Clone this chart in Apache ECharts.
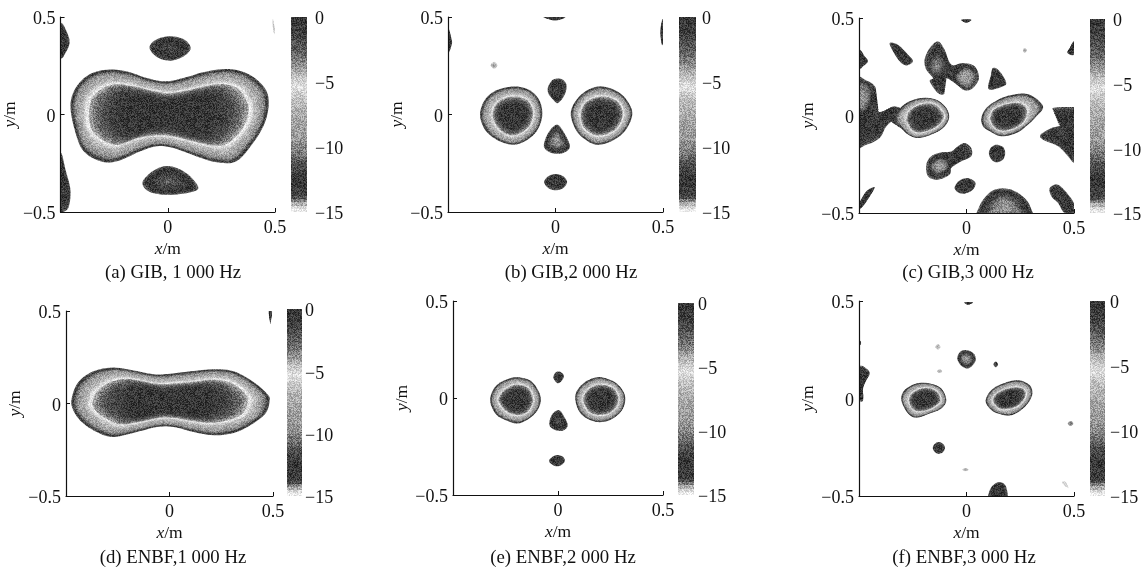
<!DOCTYPE html>
<html><head><meta charset="utf-8">
<style>html,body{margin:0;padding:0;background:#fff}#c{width:1145px;height:567px}</style>
<script src="https://cdn.jsdelivr.net/npm/echarts@6/dist/echarts.min.js"></script>
</head><body><div id="c"></div>
<script>
// colour bar: level (dB) -> grey
const colorLevels=[0,-1.5,-2.8,-3.6,-4.5,-5.3,-6.5,-8,-9.5,-10.5,-11.3,-12.5,-13.8,-14.2,-14.6,-15];
const colorGreys=[52,66,100,136,190,226,186,164,150,118,78,54,62,138,216,246];
const yTicks=[-0.5,0,0.5];
const barTicks=[0,-5,-10,-15];
const captions=['(a) GIB, 1 000 Hz','(b) GIB,2 000 Hz','(c) GIB,3 000 Hz','(d) ENBF,1 000 Hz','(e) ENBF,2 000 Hz','(f) ENBF,3 000 Hz'];

// contours. x,y: outer contour; rx,ry: -5 dB ring; base,peak: levels
const panelA=[
 {x:[-.454,-.430,-.368,-.283,-.190,-.098,-.005,.088,.181,.289,.382,.452,.471,.452,.398,.320,.228,.135,.026,-.051,-.128,-.237,-.314,-.392,-.430],
  y:[.042,.136,.204,.230,.221,.187,.170,.192,.221,.233,.204,.136,.059,-.044,-.146,-.240,-.245,-.215,-.172,-.163,-.189,-.240,-.240,-.189,-.095],
  rx:[-.381,-.364,-.314,-.252,-.175,-.090,-.005,.088,.189,.274,.344,.385,.393,.375,.336,.274,.197,.104,.011,-.067,-.152,-.245,-.314,-.361,-.379],
  ry:[.025,.093,.141,.162,.153,.131,.114,.127,.153,.162,.136,.068,.016,-.052,-.112,-.163,-.163,-.138,-.115,-.112,-.129,-.163,-.138,-.095,-.044]},
 {x:[-.085,-.059,.003,.073,.107,.073,.011,-.051],y:[.341,.381,.401,.387,.341,.298,.276,.295],peak:-11.5},
 {x:[-.118,-.082,-.020,.042,.104,.142,.073,-.020,-.090],y:[-.351,-.300,-.266,-.274,-.317,-.380,-.406,-.411,-.394],peak:-10.8},
 {x:[-.5,-.469,-.458,-.477,-.5,-.53],y:[.47,.419,.367,.316,.29,.38],peak:-12},
 {x:[-.5,-.477,-.454,-.461,-.485,-.53,-.53],y:[-.197,-.283,-.385,-.471,-.5,-.52,-.33],peak:-12},
 {x:[.49,.497,.497,.49],y:[.49,.45,.41,.45],peak:-14.45,base:-14.6}
];
const panelB=[
 {x:[-.351,-.328,-.274,-.189,-.119,-.073,-.062,-.088,-.142,-.204,-.274,-.328],y:[-.001,.076,.124,.144,.124,.068,-.009,-.086,-.137,-.155,-.129,-.078],
  rx:[-.297,-.282,-.243,-.189,-.135,-.107,-.101,-.119,-.158,-.204,-.251,-.282],ry:[-.001,.051,.085,.097,.081,.042,-.009,-.061,-.098,-.112,-.091,-.052]},
 {x:[.071,.098,.152,.221,.299,.345,.356,.322,.260,.190,.128,.090],y:[.008,.076,.127,.144,.110,.050,-.009,-.086,-.137,-.155,-.120,-.069],
  rx:[.113,.128,.167,.221,.276,.310,.317,.291,.245,.190,.144,.121],ry:[-.001,.051,.085,.097,.081,.042,-.009,-.069,-.103,-.112,-.086,-.052]},
 {x:[-.034,-.011,.028,.051,.043,.012,-.011,-.034],y:[.144,.179,.182,.153,.102,.059,.076,.110],peak:-11.5},
 {x:[.005,.036,.067,.036,-.019,-.054,-.034],y:[-.052,-.086,-.163,-.197,-.197,-.163,-.095],peak:-9},
 {x:[-.053,-.034,0,.036,.054,.036,0,-.034],y:[-.346,-.317,-.305,-.317,-.346,-.377,-.389,-.377],peak:-11.8},
 {x:[-.053,.043,.020,-.011,-.034],y:[.5,.5,.486,.483,.490],peak:-12.5},
 {x:[-.5,-.483,-.483,-.5,-.52],y:[.444,.384,.358,.315,.38],peak:-12},
 {x:[.5,.488,.492,.5,.52],y:[.49,.435,.37,.36,.43],peak:-12.5},
 {x:[-.302,-.286,-.270,-.286],y:[.252,.270,.252,.234],peak:-14.3,base:-14.6}
];
const panelC=[
 {x:[-.536,-.466,-.422,-.438,-.435,-.388,-.334,-.280,-.280,-.334,-.373,-.404,-.466,-.536],y:[.184,.180,.141,.081,.021,.021,.047,.013,-.081,-.030,-.056,-.115,-.150,-.150],peak:-12},
 {x:[-.5,-.45,-.446,-.466,-.5,-.535],y:[.175,.146,.081,.030,.021,.098],base:-11.5,peak:-9.2},
 {x:[-.326,-.280,-.210,-.140,-.094,-.081,-.109,-.164,-.226,-.272,-.311,-.334],y:[.013,.064,.090,.081,.038,-.013,-.064,-.098,-.115,-.098,-.056,-.030],
  rx:[-.280,-.264,-.210,-.148,-.109,-.102,-.133,-.179,-.226,-.257,-.272,-.283],ry:[-.004,.030,.061,.061,.021,-.013,-.056,-.081,-.090,-.076,-.047,-.025]},
 {x:[.069,.092,.147,.216,.294,.356,.325,.286,.232,.162,.108,.077],y:[-.013,.038,.081,.107,.107,.047,-.004,-.047,-.090,-.107,-.081,-.056],
  rx:[.108,.123,.170,.232,.271,.286,.271,.232,.178,.139,.116,.108],ry:[-.004,.030,.056,.069,.056,.021,-.030,-.064,-.081,-.073,-.047,-.025]},
 {x:[.402,.5,.534,.534,.5,.472,.426,.356,.345,.395,.441,.426],y:[.038,.044,.044,-.244,-.244,-.209,-.158,-.124,-.098,-.064,-.047,.004],peak:-12},
 {x:[-.195,-.171,-.133,-.102,-.071,-.016,.038,.058,.030,-.009,-.055,-.094,-.125,-.102,-.133,-.171,-.156,-.187],y:[.286,.346,.380,.338,.261,.269,.252,.192,.141,.129,.167,.192,.184,.115,.115,.175,.192,.235],peak:-12},
 {x:[-.045,-.005,.035,.045,.015,-.03,-.05],y:[.215,.248,.23,.19,.14,.155,.19],base:-11.5,peak:-8.2},
 {x:[-.17,-.14,-.1,-.105,-.14,-.175],y:[.27,.32,.28,.23,.2,.23],base:-11.8,peak:-10},
 {x:[-.357,-.319,-.272,-.249,-.280,-.311,-.342],y:[.372,.363,.312,.278,.257,.278,.329],peak:-12},
 {x:[-.5,-.473,-.458,-.481,-.5,-.535],y:[.338,.303,.278,.252,.240,.285],peak:-12},
 {x:[-.024,.022,.007,-.009],y:[.491,.491,.478,.478],peak:-12.5},
 {x:[.5,.480,.469,.5],y:[.380,.346,.321,.312],peak:-12.5},
 {x:[.262,.27,.282,.27],y:[.334,.346,.334,.322],peak:-14.3,base:-14.6},
 {x:[.123,.154,.185,.162,.115,.100,.112],y:[.244,.227,.167,.146,.132,.146,.201],peak:-11.5},
 {x:[.104,.116,.140,.170,.180,.170,.140,.116],y:[-.192,-.162,-.150,-.162,-.192,-.226,-.240,-.226],peak:-12},
 {x:[-.187,-.164,-.117,-.071,-.040,-.009,.022,.022,-.024,-.071,-.078,-.133,-.179],y:[-.252,-.209,-.189,-.184,-.158,-.141,-.167,-.209,-.235,-.269,-.303,-.329,-.312],peak:-12},
 {x:[-.165,-.125,-.09,-.085,-.125,-.16],y:[-.25,-.22,-.235,-.27,-.3,-.29],base:-11.5,peak:-8.8},
 {x:[-.055,-.032,.007,.041,.030,-.009,-.040],y:[-.368,-.333,-.321,-.343,-.380,-.401,-.394],peak:-12},
 {x:[.046,.077,.131,.208,.278,.309,.333,.022],y:[-.5,-.432,-.380,-.380,-.432,-.5,-.551,-.551],peak:-9},
 {x:[.387,.426,.480,.506,.506,.456,.426,.395],y:[-.372,-.355,-.415,-.466,-.5,-.5,-.449,-.415],peak:-12},
 {x:[-.5,-.466,-.427,-.450,-.489,-.535],y:[-.449,-.389,-.367,-.415,-.474,-.5],peak:-12}
];
const panelD=[
 {x:[-.473,-.440,-.368,-.271,-.174,-.077,.003,.100,.213,.310,.406,.471,.484,.463,.390,.310,.213,.116,.019,-.061,-.158,-.271,-.352,-.424,-.465],
  y:[.026,.116,.174,.194,.179,.158,.161,.174,.185,.174,.116,.053,.017,-.055,-.118,-.159,-.172,-.154,-.127,-.127,-.154,-.181,-.154,-.100,-.037],
  rx:[-.387,-.368,-.311,-.231,-.150,-.069,.003,.100,.213,.294,.350,.387,.394,.371,.318,.253,.190,.108,.019,-.053,-.150,-.247,-.311,-.360,-.384],
  ry:[.008,.062,.113,.138,.129,.111,.111,.120,.134,.122,.089,.044,.008,-.055,-.086,-.104,-.109,-.097,-.082,-.082,-.104,-.118,-.091,-.055,-.019]},
 {x:[.479,.495,.492,.487],y:[.5,.5,.46,.43],peak:-13,base:-14.3}
];
const panelE=[
 {x:[-.323,-.299,-.244,-.188,-.125,-.085,-.089,-.125,-.188,-.252,-.299],y:[-.010,.058,.096,.107,.084,.015,-.045,-.096,-.131,-.113,-.079],
  rx:[-.288,-.267,-.228,-.188,-.141,-.117,-.120,-.149,-.188,-.236,-.267],ry:[-.010,.033,.064,.072,.055,.007,-.036,-.079,-.091,-.079,-.050]},
 {x:[.082,.104,.152,.207,.278,.318,.310,.263,.199,.136,.097],y:[.007,.058,.096,.107,.076,.015,-.053,-.105,-.125,-.105,-.062],
  rx:[.117,.136,.176,.215,.263,.291,.282,.247,.199,.152,.128],ry:[-.002,.041,.067,.072,.055,.007,-.045,-.079,-.091,-.079,-.045]},
 {x:[-.022,-.011,.009,.028,.017,-.002,-.017],y:[.110,.132,.136,.115,.088,.076,.093],peak:-12.3},
 {x:[.002,.025,.046,.025,-.014,-.041,-.030],y:[-.062,-.088,-.139,-.168,-.165,-.139,-.088],peak:-11.3},
 {x:[-.043,-.025,-.002,.022,.033,.017,-.006,-.030],y:[-.323,-.302,-.294,-.302,-.323,-.345,-.352,-.342],peak:-12}
];
const panelF=[
 {x:[-.303,-.288,-.233,-.171,-.117,-.094,-.117,-.171,-.233,-.272],y:[-.009,.043,.077,.077,.051,-.009,-.051,-.077,-.098,-.077],
  rx:[-.272,-.257,-.218,-.171,-.133,-.117,-.140,-.179,-.218,-.253],ry:[-.009,.026,.051,.055,.034,-.009,-.038,-.060,-.068,-.055]},
 {x:[.089,.116,.170,.240,.294,.305,.271,.209,.146,.108],y:[-.009,.043,.077,.094,.068,.017,-.043,-.086,-.077,-.051],
  rx:[.119,.139,.185,.232,.271,.278,.247,.201,.154,.131],ry:[-.009,.026,.051,.060,.048,.014,-.034,-.055,-.055,-.034]},
 {x:[-.043,-.029,.002,.033,.043,.022,0,-.027],y:[.205,.240,.248,.231,.197,.163,.154,.171],peak:-8.8},
 {x:[-.157,-.148,-.129,-.109,-.100,-.109,-.129,-.148],y:[-.253,-.233,-.223,-.233,-.253,-.274,-.284,-.274],peak:-12.2},
 {x:[.100,.116,.150,.181,.193,.193,.100],y:[-.5,-.454,-.428,-.445,-.5,-.53,-.53],peak:-12.2},
 {x:[-.5,-.466,-.450,-.466,-.481,-.481,-.5,-.535],y:[.163,.154,.128,.094,.051,-.009,-.009,.068],peak:-12},
 {x:[-.009,.030,.015,0],y:[.493,.493,.483,.483],peak:-12.5},
 {x:[-.145,-.133,-.121,-.133],y:[.265,.28,.265,.25],peak:-14.3,base:-14.6},
 {x:[-.137,-.125,-.113,-.125],y:[.14,.15,.14,.13],peak:-14.3,base:-14.6},
 {x:[.125,.136,.147,.136],y:[.175,.19,.175,.16],peak:-13,base:-14.3},
 {x:[-.02,-.005,.01,-.005],y:[-.365,-.357,-.365,-.373],peak:-14.3,base:-14.6},
 {x:[.47,.484,.498,.484],y:[-.128,-.115,-.128,-.142],peak:-14,base:-14.5},
 {x:[.445,.46,.475,.46],y:[-.43,-.425,-.46,-.45],peak:-14.5,base:-14.7},
 {x:[-.5,-.49,-.5],y:[.30,.285,.27],peak:-13}
];
const panels=[panelA,panelB,panelC,panelD,panelE,panelF];

// layout only (pixels)
const plotBox=[[60,275,17,212],[448,663,17,212],[859,1074,18,213],[66,273,311,496],[453,663,301,495],[859,1074,301,496]];
const barBox=[[291,307,17,212],[679,696,17,212],[1090,1105,19,213],[287,302,309,496],[678,694,303,495],[1090,1105,301,496]];
const capPos=[[168,272],[566,272],[963,272],[168,557],[558,557],[959,557]];
const yNameGap=[37,36,36,35,35,34];
const barMargin=[8,6,8,3,4,5];

function levelGrey(v){
  if(v>=colorLevels[0])return colorGreys[0];
  for(let i=1;i<colorLevels.length;i++){
    if(v>=colorLevels[i]){
      const t=(colorLevels[i-1]-v)/(colorLevels[i-1]-colorLevels[i]);
      return colorGreys[i-1]+t*(colorGreys[i]-colorGreys[i-1]);
    }
  }
  return colorGreys[colorGreys.length-1];
}
// halftone look of the printed figure: fixed tiles, one per grey step
const tileCache={};
function grainFill(v){
  const g=Math.round(levelGrey(v)/6)*6;
  if(tileCache[g])return tileCache[g];
  const c=document.createElement('canvas');c.width=c.height=67;
  const ctx=c.getContext('2d'),im=ctx.createImageData(67,67);
  let s=(g*2654435761+12345)>>>0;
  const amp=20+26*(1-Math.abs(g-128)/128);
  for(let i=0;i<im.data.length;i+=4){
    s=(Math.imul(s,1664525)+1013904223)>>>0;
    const r=(s>>>16&255)/255;
    const val=Math.max(0,Math.min(255,g+(r-0.5)*2*amp));
    im.data[i]=im.data[i+1]=im.data[i+2]=val;im.data[i+3]=255;
  }
  ctx.putImageData(im,0,0);
  tileCache[g]={image:c,repeat:'repeat'};
  return tileCache[g];
}
// closed Catmull-Rom path through the contour points
function closedCurve(pts){
  const out=[],n=pts.length,S=6;
  for(let i=0;i<n;i++){
    const a=pts[(i+n-1)%n],b=pts[i],c=pts[(i+1)%n],d=pts[(i+2)%n];
    for(let k=0;k<S;k++){
      const t=k/S,t2=t*t,t3=t2*t;
      out.push([0,1].map(j=>0.5*(2*b[j]+(c[j]-a[j])*t+(2*a[j]-5*b[j]+4*c[j]-d[j])*t2+(3*b[j]-a[j]-3*c[j]+d[j])*t3)));
    }
  }
  return out;
}
const RIM=-13.9,RINGV=-5.3;
function renderBlob(list){
  return function(params,api){
    const b=list[api.value(0)],kids=[];
    const outer=closedCurve(b.x.map((x,i)=>api.coord([x,b.y[i]])));
    const add=(pts,v)=>kids.push({type:'polygon',shape:{points:pts},style:{fill:grainFill(v)}});
    const centre=pts=>{let a=0,c=0;pts.forEach(p=>{a+=p[0];c+=p[1];});return [a/pts.length,c/pts.length];};
    const scale=(pts,s)=>{const m=centre(pts);return pts.map(p=>[m[0]+(p[0]-m[0])*s,m[1]+(p[1]-m[1])*s]);};
    const base=b.base===undefined?RIM:b.base;
    if(b.rx){
      const ring=closedCurve(b.rx.map((x,i)=>api.coord([x,b.ry[i]])));
      const N=14;
      for(let k=0;k<=N;k++){
        const t=k/N,pts=outer.map((p,i)=>[p[0]+(ring[i][0]-p[0])*t,p[1]+(ring[i][1]-p[1])*t]);
        add(pts,base+(RINGV-base)*Math.pow(t,0.6));
      }
      const M=12;
      for(let k=1;k<=M;k++){
        const t=k/M;
        add(scale(ring,1-0.5*t),RINGV*(1-Math.pow(t,0.55)));
      }
    }else{
      const N=10;
      for(let k=0;k<=N;k++){
        const t=k/N;
        add(scale(outer,1-0.9*t),base+(b.peak-base)*Math.pow(t,0.7));
      }
    }
    return {type:'group',children:kids};
  };
}
function renderBar(params,api){
  const kids=[],a=api.coord([0,0]),STEP=0.25;
  const c=api.coord([1,-15]);
  for(let v=0;v>-15;v-=STEP){
    const y0=Math.round(api.coord([0,v])[1]),y1=Math.round(api.coord([0,v-STEP])[1]);
    kids.push({type:'rect',shape:{x:a[0],y:y0,width:c[0]-a[0],height:y1-y0},style:{fill:grainFill(v-STEP/2)}});
  }
  return {type:'group',children:kids};
}
const FONT='"Liberation Serif","Times New Roman",serif';
const minus=v=>String(v).replace('-','\u2212');
const shifted=v=>'{a|'+minus(v)+'}';
const grid=[],xAxis=[],yAxis=[],series=[],title=[];
panels.forEach((list,p)=>{
  const [l,r,t,bt]=plotBox[p],[bl,br,bt0,bb]=barBox[p];
  const gi=grid.length;
  grid.push({left:l,top:t,width:r-l,height:bt-t});
  grid.push({left:bl,top:bt0,width:br-bl,height:bb-bt0});
  const line={show:true,onZero:false,lineStyle:{color:'#111',width:1.2}};
  const tick={show:true,inside:true,length:4,lineStyle:{color:'#111',width:1}};
  const lab={color:'#111',fontFamily:FONT,fontSize:18,formatter:minus};
  const down={a:{fontFamily:FONT,fontSize:18,color:'#111',padding:[5,0,0,0]}};
  const rich={i:{fontFamily:FONT,fontStyle:'italic',fontSize:17.5,color:'#111'},n:{fontFamily:FONT,fontSize:17.5,color:'#111'}};
  xAxis.push({gridIndex:gi,type:'value',min:yTicks[0],max:yTicks[2],interval:0.5,axisLine:line,axisTick:tick,splitLine:{show:false},z:5,
    axisLabel:Object.assign({},lab,{margin:7,showMinLabel:false,showMaxLabel:true,formatter:v=>v===-0.5?'':minus(v)}),
    name:'{i|x}{n|/m}',nameLocation:'middle',nameGap:28,nameTextStyle:{rich}});
  yAxis.push({gridIndex:gi,type:'value',min:yTicks[0],max:yTicks[2],interval:0.5,axisLine:line,axisTick:tick,splitLine:{show:false},z:5,
    axisLabel:Object.assign({},lab,{margin:5,formatter:shifted,rich:down,showMinLabel:true,showMaxLabel:true}),
    name:'{i|y}{n|/m}',nameLocation:'middle',nameGap:yNameGap[p],nameRotate:90,nameTextStyle:{rich}});
  xAxis.push({gridIndex:gi+1,type:'value',min:0,max:1,show:false});
  yAxis.push({gridIndex:gi+1,type:'value',min:barTicks[3],max:barTicks[0],interval:5,position:'right',
    axisLine:{show:false},axisTick:{show:false},splitLine:{show:false},
    axisLabel:Object.assign({},lab,{margin:barMargin[p],formatter:shifted,rich:down,showMinLabel:true,showMaxLabel:true})});
  series.push({type:'custom',coordinateSystem:'cartesian2d',xAxisIndex:gi,yAxisIndex:gi,clip:true,silent:true,animation:false,
    renderItem:renderBlob(list),data:list.map((_,i)=>[i]),encode:{x:-1,y:-1}});
  series.push({type:'custom',coordinateSystem:'cartesian2d',xAxisIndex:gi+1,yAxisIndex:gi+1,silent:true,animation:false,
    renderItem:renderBar,data:[[0]],encode:{x:-1,y:-1}});
  title.push({text:captions[p],left:capPos[p][0],top:capPos[p][1]-4,textAlign:'center',textVerticalAlign:'middle',
    textStyle:{fontFamily:FONT,fontSize:18.8,fontWeight:'normal',color:'#111'}});
});
const chart=echarts.init(document.getElementById('c'),null,{renderer:'canvas'});
chart.setOption({animation:false,backgroundColor:'#fff',title,grid,xAxis,yAxis,series,tooltip:{show:false}});
</script></body></html>
